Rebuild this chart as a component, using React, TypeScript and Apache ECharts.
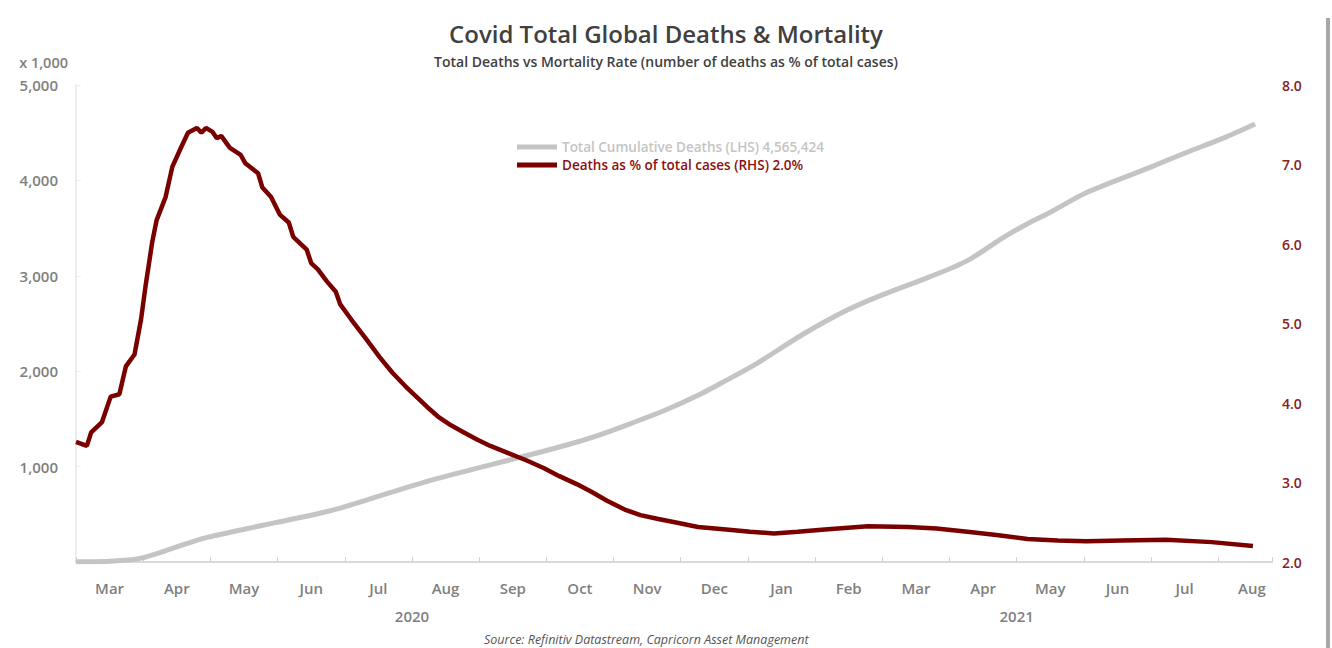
import React, { useEffect, useRef } from "react";
import * as echarts from "echarts";

// Total cumulative deaths (thousands), LHS
const deathDates = [
  "2020-03-01", "2020-03-15", "2020-03-25", "2020-03-31", "2020-04-10", "2020-04-20", "2020-04-30",
  "2020-05-15", "2020-05-30", "2020-06-15", "2020-06-29", "2020-07-11", "2020-08-10", "2020-09-09",
  "2020-10-10", "2020-10-25", "2020-11-09", "2020-11-24", "2020-12-09", "2020-12-22", "2021-01-05",
  "2021-01-27", "2021-02-14", "2021-03-01", "2021-03-22", "2021-04-09", "2021-04-25", "2021-05-06",
  "2021-05-17", "2021-06-02", "2021-06-20", "2021-07-02", "2021-07-17", "2021-08-03", "2021-08-18",
];
const deathsK = [
  3, 6, 20, 40, 110, 190, 260,
  335, 408, 485, 565, 649, 858, 1036,
  1224, 1328, 1454, 1590, 1747, 1904, 2080,
  2395, 2636, 2800, 2981, 3159, 3400, 3546,
  3672, 3870, 4040, 4150, 4290, 4440, 4592,
];

// Deaths as % of total cases, RHS
const rateDates = [
  "2020-03-01", "2020-03-06", "2020-03-08", "2020-03-13", "2020-03-17", "2020-03-21", "2020-03-24",
  "2020-03-28", "2020-03-31", "2020-04-02", "2020-04-05", "2020-04-07", "2020-04-11", "2020-04-14",
  "2020-04-18", "2020-04-21", "2020-04-25", "2020-04-27", "2020-04-29", "2020-05-02", "2020-05-04",
  "2020-05-06", "2020-05-10", "2020-05-15", "2020-05-17", "2020-05-23", "2020-05-25", "2020-05-29",
  "2020-06-02", "2020-06-06", "2020-06-08", "2020-06-14", "2020-06-16", "2020-06-19", "2020-06-23",
  "2020-06-27", "2020-06-29", "2020-07-04", "2020-07-11", "2020-07-17", "2020-07-23", "2020-07-29",
  "2020-08-03", "2020-08-08", "2020-08-13", "2020-08-19", "2020-08-25", "2020-08-31", "2020-09-06",
  "2020-09-14", "2020-09-22", "2020-09-30", "2020-10-07", "2020-10-15", "2020-10-22", "2020-10-29",
  "2020-11-06", "2020-11-13", "2020-11-21", "2020-11-30", "2020-12-09", "2020-12-22", "2021-01-02",
  "2021-01-13", "2021-01-24", "2021-02-05", "2021-02-23", "2021-03-13", "2021-03-26", "2021-04-09",
  "2021-04-22", "2021-05-06", "2021-05-20", "2021-06-02", "2021-06-18", "2021-07-08", "2021-07-29",
  "2021-08-17",
];
const ratePct = [
  3.51, 3.46, 3.63, 3.76, 4.08, 4.11, 4.46,
  4.61, 5.05, 5.46, 6.02, 6.3, 6.59, 6.97,
  7.22, 7.4, 7.46, 7.4, 7.46, 7.41, 7.33,
  7.36, 7.21, 7.12, 7.02, 6.89, 6.71, 6.59,
  6.37, 6.27, 6.09, 5.93, 5.76, 5.68, 5.53,
  5.4, 5.24, 5.05, 4.8, 4.58, 4.38, 4.21,
  4.08, 3.95, 3.83, 3.72, 3.63, 3.54, 3.46,
  3.37, 3.28, 3.18, 3.08, 2.98, 2.88, 2.77,
  2.66, 2.59, 2.54, 2.49, 2.44, 2.41, 2.38,
  2.36, 2.38, 2.41, 2.45, 2.44, 2.42, 2.38,
  2.34, 2.29, 2.27, 2.26, 2.27, 2.28, 2.25,
  2.2,
];

const monthLabels = ["Mar", "Apr", "May", "Jun", "Jul", "Aug", "Sep", "Oct", "Nov", "Dec", "Jan", "Feb", "Mar", "Apr", "May", "Jun", "Jul", "Aug"];
const yearLabels = [{ at: 5, text: "2020" }, { at: 14, text: "2021" }];
const leftTicks = [0, 1000, 2000, 3000, 4000, 5000];

const deathsName = "Total Cumulative Deaths (LHS) 4,565,424";
const rateName = "Deaths as % of total cases (RHS) 2.0%";

function monthPos(s: string): number {
  const [y, m, d] = s.split("-").map(Number);
  const dim = new Date(y, m, 0).getDate();
  return (y - 2020) * 12 + (m - 3) + (d - 1) / dim;
}

const FONT = "'Open Sans', sans-serif";
const X_MAX = 17.8;

export default function App() {
  const ref = useRef<HTMLDivElement>(null);
  useEffect(() => {
    if (!ref.current) return;
    const chart = echarts.init(ref.current, undefined, { renderer: "svg" });
    const baseX = {
      type: "value" as const,
      min: 0,
      max: X_MAX,
      position: "bottom" as const,
      offset: 0,
      splitLine: { show: false },
    };
    chart.setOption({
      animation: false,
      backgroundColor: "#ffffff",
      textStyle: { fontFamily: FONT },
      title: [
        {
          text: "Covid Total Global Deaths & Mortality",
          left: "center",
          top: 16,
          textStyle: { fontFamily: FONT, fontSize: 24, fontWeight: 600, color: "#404040" },
        },
        {
          text: "Total Deaths vs Mortality Rate (number of deaths as % of total cases)",
          left: "center",
          top: 49,
          textStyle: { fontFamily: FONT, fontSize: 14, fontWeight: 600, color: "#404040" },
        },
        {
          text: "Source: Refinitiv Datastream, Capricorn Asset Management",
          left: 484,
          top: 631,
          padding: 0,
          textStyle: { fontFamily: FONT, fontSize: 12.5, lineHeight: 16, fontStyle: "italic", fontWeight: "normal", color: "#555555" },
        },
      ],
      legend: {
        orient: "vertical",
        left: 512,
        top: 135,
        itemWidth: 40,
        itemHeight: 5,
        itemGap: 4,
        icon: "rect",
        data: [
          { name: deathsName, textStyle: { color: "#c4c4c4" } },
          { name: rateName, textStyle: { color: "#8b1010" } },
        ],
        textStyle: { fontFamily: FONT, fontSize: 13.5, fontWeight: 600 },
      },
      grid: { left: 76, right: 60, top: 85, bottom: 86, containLabel: false },
      xAxis: [
        {
          ...baseX,
          interval: 1,
          axisLine: { show: true, lineStyle: { color: "#d9d9d9", width: 2 } },
          axisTick: { show: true, inside: true, length: 5, lineStyle: { color: "#d0d0d0", width: 1 } },
          axisLabel: { show: false },
        },
        {
          ...baseX,
          interval: 0.5,
          axisLine: { show: false },
          axisTick: { show: false },
          axisLabel: {
            show: true,
            margin: 18,
            fontFamily: FONT,
            fontSize: 15,
            fontWeight: 600,
            color: "#7f7f7f",
            formatter: (v: number) => {
              const f = v - Math.floor(v);
              return Math.abs(f - 0.5) < 1e-6 ? monthLabels[Math.floor(v)] : "";
            },
          },
        },
        {
          ...baseX,
          interval: 1,
          axisLine: { show: false },
          axisTick: { show: false },
          axisLabel: {
            show: true,
            margin: 46,
            fontFamily: FONT,
            fontSize: 15,
            fontWeight: 600,
            color: "#7f7f7f",
            formatter: (v: number) => {
              const y = yearLabels.find((l) => Math.abs(l.at - v) < 1e-6);
              return y ? y.text : "";
            },
          },
        },
      ],
      yAxis: [
        {
          type: "value",
          min: leftTicks[0],
          max: leftTicks[leftTicks.length - 1],
          interval: 1000,
          position: "left",
          name: "x 1,000",
          nameLocation: "end",
          nameGap: 15,
          nameTextStyle: { fontFamily: FONT, fontSize: 14.5, fontWeight: 600, color: "#7f7f7f", align: "right", padding: [0, 8, 0, 0] },
          axisLine: { show: true, lineStyle: { color: "#e3e3e3", width: 1.5 } },
          axisTick: { show: true, inside: true, length: 5, lineStyle: { color: "#eeeeee" } },
          splitLine: { show: false },
          axisLabel: {
            margin: 18,
            fontFamily: FONT,
            fontSize: 15,
            fontWeight: 600,
            color: "#7f7f7f",
            formatter: (v: number) => (v === 0 ? "" : v.toLocaleString("en-US")),
          },
        },
        {
          type: "value",
          min: 2,
          max: 8,
          interval: 1,
          position: "right",
          axisLine: { show: true, lineStyle: { color: "#f0f0f0", width: 1 } },
          axisTick: { show: false },
          splitLine: { show: false },
          axisLabel: {
            margin: 10,
            fontFamily: FONT,
            fontSize: 14,
            fontWeight: 600,
            color: "#8b2020",
            formatter: (v: number) => v.toFixed(1),
          },
        },
      ],
      series: [
        {
          name: deathsName,
          type: "line",
          xAxisIndex: 0,
          yAxisIndex: 0,
          showSymbol: false,
          symbol: "none",
          smooth: 0.3,
          lineStyle: { color: "#c4c4c4", width: 5 },
          itemStyle: { color: "#c4c4c4" },
          data: deathDates.map((d, i) => [monthPos(d), deathsK[i]]),
          z: 2,
        },
        {
          name: rateName,
          type: "line",
          xAxisIndex: 0,
          yAxisIndex: 1,
          showSymbol: false,
          symbol: "none",
          lineStyle: { color: "#7a0000", width: 4.5 },
          itemStyle: { color: "#7a0000" },
          data: rateDates.map((d, i) => [monthPos(d), ratePct[i]]),
          z: 3,
        },
      ],
      graphic: [
        { type: "rect", shape: { x: 1326, y: 18, width: 4, height: 630 }, style: { fill: "#a8a8a8" }, silent: true },
      ],
    });
    return () => chart.dispose();
  }, []);
  return <div ref={ref} style={{ position: "fixed", left: 0, top: 0, width: 1332, height: 648 }} />;
}
